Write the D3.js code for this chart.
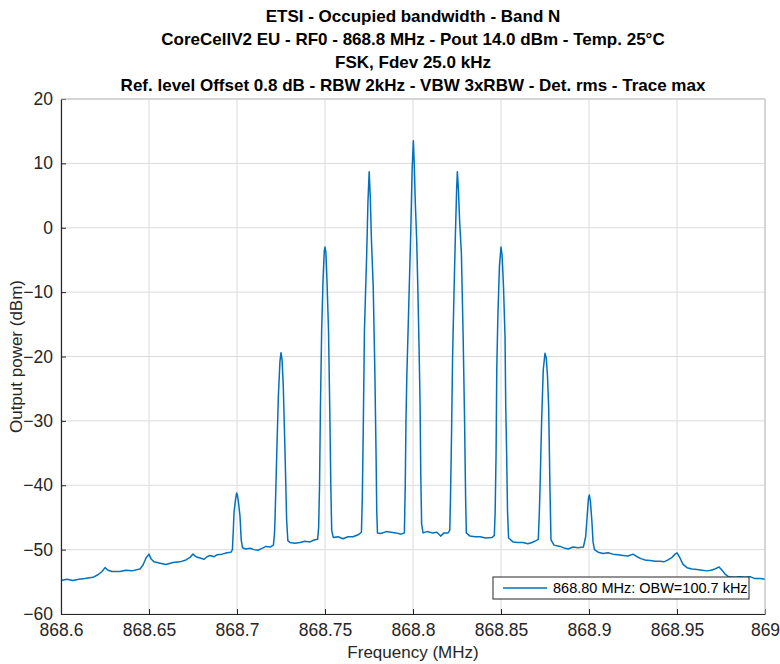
<!DOCTYPE html>
<html lang="en">
<head>
<meta charset="utf-8">
<title>ETSI OBW</title>
<script src="https://cdn.jsdelivr.net/npm/d3@7"></script>
<style>
body { margin: 0; background: #fff; }
text { font-family: "Liberation Sans", Arial, sans-serif; }
</style>
</head>
<body>
<script>
var w = 780, h = 664;
var margin = {top: 99, right: 15, bottom: 50, left: 61};

var titleLines = [
  "ETSI - Occupied bandwidth - Band N",
  "CoreCellV2 EU - RF0 - 868.8 MHz - Pout 14.0 dBm - Temp. 25°C",
  "FSK, Fdev 25.0 kHz",
  "Ref. level Offset 0.8 dB - RBW 2kHz - VBW 3xRBW - Det. rms - Trace max"
];
var xTicks = [868.6, 868.65, 868.7, 868.75, 868.8, 868.85, 868.9, 868.95, 869];
var yTicks = [-60, -50, -40, -30, -20, -10, 0, 10, 20];
var legendLabel = "868.80 MHz: OBW=100.7 kHz";

// trace max (MHz, dBm)
var freqMHz = [
  868.6000, 868.6034, 868.6068, 868.6102, 868.6136, 868.6182, 868.6210, 868.6233, 868.6250, 868.6267,
  868.6290, 868.6335, 868.6369, 868.6403, 868.6449, 868.6466, 868.6483, 868.6500, 868.6511, 868.6528,
  868.6563, 868.6597, 868.6636, 868.6676, 868.6710, 868.6733, 868.6750, 868.6767, 868.6790, 868.6813,
  868.6830, 868.6847, 868.6869, 868.6886, 868.6915, 868.6943, 868.6966, 868.6974, 868.6979, 868.6983,
  868.6991, 868.6998, 868.7003, 868.7009, 868.7017, 868.7024, 868.7031, 868.7051, 868.7074, 868.7097,
  868.7119, 868.7142, 868.7165, 868.7188, 868.7207, 868.7213, 868.7216, 868.7226, 868.7235, 868.7244,
  868.7250, 868.7256, 868.7263, 868.7273, 868.7282, 868.7289, 868.7301, 868.7330, 868.7358, 868.7386,
  868.7415, 868.7438, 868.7458, 868.7464, 868.7469, 868.7474, 868.7481, 868.7489, 868.7496, 868.7500,
  868.7505, 868.7511, 868.7520, 868.7527, 868.7533, 868.7538, 868.7547, 868.7574, 868.7602, 868.7631,
  868.7659, 868.7688, 868.7707, 868.7712, 868.7718, 868.7724, 868.7737, 868.7744, 868.7751, 868.7757,
  868.7764, 868.7774, 868.7783, 868.7790, 868.7794, 868.7798, 868.7818, 868.7847, 868.7875, 868.7903,
  868.7932, 868.7951, 868.7956, 868.7960, 868.7965, 868.7976, 868.7987, 868.7995, 868.8002, 868.8007,
  868.8013, 868.8021, 868.8028, 868.8034, 868.8040, 868.8044, 868.8049, 868.8057, 868.8080, 868.8108,
  868.8136, 868.8157, 868.8176, 868.8199, 868.8209, 868.8213, 868.8219, 868.8225, 868.8233, 868.8241,
  868.8248, 868.8252, 868.8258, 868.8265, 868.8275, 868.8285, 868.8293, 868.8299, 868.8303, 868.8324,
  868.8352, 868.8381, 868.8415, 868.8449, 868.8462, 868.8467, 868.8472, 868.8476, 868.8482, 868.8491,
  868.8500, 868.8506, 868.8514, 868.8523, 868.8527, 868.8532, 868.8537, 868.8543, 868.8568, 868.8597,
  868.8625, 868.8653, 868.8676, 868.8699, 868.8712, 868.8718, 868.8722, 868.8731, 868.8740, 868.8750,
  868.8757, 868.8764, 868.8771, 868.8778, 868.8784, 868.8801, 868.8835, 868.8864, 868.8882, 868.8909,
  868.8938, 868.8968, 868.8981, 868.8988, 868.8997, 868.9002, 868.9008, 868.9016, 868.9023, 868.9031,
  868.9052, 868.9080, 868.9108, 868.9136, 868.9165, 868.9193, 868.9222, 868.9250, 868.9273, 868.9295,
  868.9318, 868.9347, 868.9375, 868.9403, 868.9426, 868.9449, 868.9472, 868.9489, 868.9500, 868.9517,
  868.9534, 868.9557, 868.9585, 868.9614, 868.9642, 868.9670, 868.9693, 868.9716, 868.9739, 868.9756,
  868.9773, 868.9792, 868.9830, 868.9858, 868.9886, 868.9915, 868.9943, 868.9972, 869.0000
];
var powerDbm = [
  -54.8, -54.6, -54.8, -54.6, -54.5, -54.3, -53.9, -53.4, -52.8, -53.2,
  -53.4, -53.4, -53.2, -53.3, -53.0, -52.4, -51.3, -50.7, -51.4, -51.9,
  -52.1, -52.3, -52.0, -51.9, -51.6, -51.2, -50.7, -51.1, -51.3, -51.5,
  -51.1, -50.9, -51.1, -50.8, -50.7, -50.5, -50.4, -50.0, -47.0, -44.3,
  -42.3, -41.2, -41.6, -42.8, -44.8, -48.5, -49.7, -49.9, -49.8, -50.0,
  -50.1, -49.8, -49.5, -49.6, -49.3, -47.5, -45.4, -35.0, -26.2, -20.8,
  -19.4, -20.5, -24.7, -35.0, -45.4, -48.6, -48.9, -49.0, -48.9, -48.7,
  -48.8, -48.5, -48.4, -46.5, -40.0, -28.0, -16.0, -8.0, -3.6, -3.0,
  -3.8, -8.0, -16.0, -28.0, -40.0, -47.0, -48.1, -48.0, -48.3, -48.0,
  -48.0, -47.7, -47.3, -42.0, -30.0, -16.0, -4.0, 4.0, 8.7, 5.0,
  -2.0, -9.2, -22.0, -35.0, -44.0, -47.4, -47.5, -47.2, -47.3, -47.4,
  -47.6, -47.4, -40.0, -30.0, -23.0, -12.0, -1.0, 9.0, 13.5, 10.0,
  4.0, -2.0, -10.0, -18.0, -27.0, -38.0, -46.0, -47.4, -47.2, -47.4,
  -47.3, -47.9, -47.4, -47.4, -47.0, -42.0, -32.0, -20.0, -10.0, -1.0,
  6.0, 8.7, 6.0, 1.0, -4.0, -17.0, -30.0, -42.0, -47.4, -47.9,
  -48.0, -48.0, -48.2, -48.1, -47.8, -44.0, -35.0, -22.0, -14.0, -6.0,
  -3.0, -4.2, -9.0, -17.0, -28.0, -35.0, -44.0, -48.2, -48.8, -48.9,
  -48.9, -49.1, -48.9, -48.6, -48.4, -44.0, -40.2, -29.9, -22.1, -19.5,
  -20.2, -23.0, -28.0, -40.2, -48.5, -49.3, -49.5, -49.8, -49.9, -49.6,
  -49.7, -49.6, -48.0, -45.4, -42.0, -41.5, -42.5, -45.4, -48.8, -50.0,
  -50.4, -50.6, -50.5, -50.7, -50.8, -50.9, -51.0, -50.7, -51.1, -51.4,
  -51.6, -51.7, -51.8, -51.8, -51.9, -51.6, -51.2, -50.7, -50.5, -51.3,
  -52.3, -52.8, -53.0, -53.1, -53.2, -53.3, -53.2, -53.0, -52.7, -53.2,
  -53.8, -54.2, -54.3, -54.2, -54.3, -54.2, -54.5, -54.5, -54.6
];

var trace = freqMHz.map(function (f, i) { return {f: f, p: powerDbm[i]}; });

var iw = w - margin.left - margin.right;
var ih = h - margin.top - margin.bottom;

var xScale = d3.scaleLinear().domain([868.6, 869]).range([0, iw]);
var yScale = d3.scaleLinear().domain([-60, 20]).range([ih, 0]);

var svg = d3.select("body").append("svg")
  .attr("width", w)
  .attr("height", h);

// titles
svg.selectAll("text.title")
  .data(titleLines)
  .enter()
  .append("text")
  .attr("class", "title")
  .attr("x", margin.left + iw / 2)
  .attr("y", function (d, i) { return 22 + i * 23; })
  .attr("text-anchor", "middle")
  .attr("font-size", "17px")
  .attr("font-weight", "bold")
  .attr("fill", "#000")
  .text(function (d) { return d; });

var g = svg.append("g")
  .attr("transform", "translate(" + margin.left + "," + margin.top + ")");

// grid
g.append("g").selectAll("line")
  .data(xTicks)
  .enter().append("line")
  .attr("x1", function (d) { return xScale(d); })
  .attr("x2", function (d) { return xScale(d); })
  .attr("y1", 0).attr("y2", ih)
  .attr("stroke", "#dcdcdc").attr("stroke-width", 1);
g.append("g").selectAll("line")
  .data(yTicks)
  .enter().append("line")
  .attr("y1", function (d) { return yScale(d); })
  .attr("y2", function (d) { return yScale(d); })
  .attr("x1", 0).attr("x2", iw)
  .attr("stroke", "#dcdcdc").attr("stroke-width", 1);

// trace
var line = d3.line()
  .x(function (d) { return xScale(d.f); })
  .y(function (d) { return yScale(d.p); });

g.append("path")
  .datum(trace)
  .attr("d", line)
  .attr("fill", "none")
  .attr("stroke", "#0072BD")
  .attr("stroke-width", 1.5)
  .attr("stroke-linejoin", "round");

// axes
var xAxis = d3.axisBottom(xScale)
  .tickValues(xTicks)
  .tickSizeInner(-5).tickSizeOuter(0)
  .tickPadding(10)
  .tickFormat(d3.format(""));
var yAxis = d3.axisLeft(yScale)
  .tickValues(yTicks)
  .tickSizeInner(-5).tickSizeOuter(0)
  .tickPadding(8);

var gx = g.append("g")
  .attr("transform", "translate(0," + ih + ")")
  .call(xAxis);
var gy = g.append("g").call(yAxis);

[gx, gy].forEach(function (a) {
  a.select(".domain").attr("stroke", "#262626").attr("stroke-width", 1.2);
  a.selectAll(".tick line").attr("stroke", "#262626");
  a.selectAll(".tick text")
    .attr("font-family", "'Liberation Sans', Arial, sans-serif")
    .attr("font-size", "17.5px")
    .attr("fill", "#262626");
});

// right and top box edges
g.append("line").attr("x1", iw).attr("x2", iw).attr("y1", 0).attr("y2", ih)
  .attr("stroke", "#bfbfbf").attr("stroke-width", 1);
g.append("line").attr("x1", 0).attr("x2", iw).attr("y1", 0).attr("y2", 0)
  .attr("stroke", "#bfbfbf").attr("stroke-width", 1);

// axis labels
svg.append("text")
  .attr("x", margin.left + iw / 2)
  .attr("y", h - 6)
  .attr("text-anchor", "middle")
  .attr("font-size", "17px")
  .attr("fill", "#262626")
  .text("Frequency (MHz)");
svg.append("text")
  .attr("transform", "translate(22," + (margin.top + ih / 2) + ") rotate(-90)")
  .attr("text-anchor", "middle")
  .attr("font-size", "17px")
  .attr("fill", "#262626")
  .text("Output power (dBm)");

// legend
var lg = g.append("g")
  .attr("transform", "translate(" + (iw - 272) + "," + (ih - 37) + ")");
lg.append("rect")
  .attr("width", 256).attr("height", 22)
  .attr("fill", "#fff")
  .attr("stroke", "#262626").attr("stroke-width", 1);
lg.append("line")
  .attr("x1", 10).attr("x2", 54).attr("y1", 11).attr("y2", 11)
  .attr("stroke", "#0072BD").attr("stroke-width", 1.5);
lg.append("text")
  .attr("x", 60).attr("y", 16)
  .attr("font-size", "14.5px")
  .attr("fill", "#000")
  .text(legendLabel);
</script>
</body>
</html>
